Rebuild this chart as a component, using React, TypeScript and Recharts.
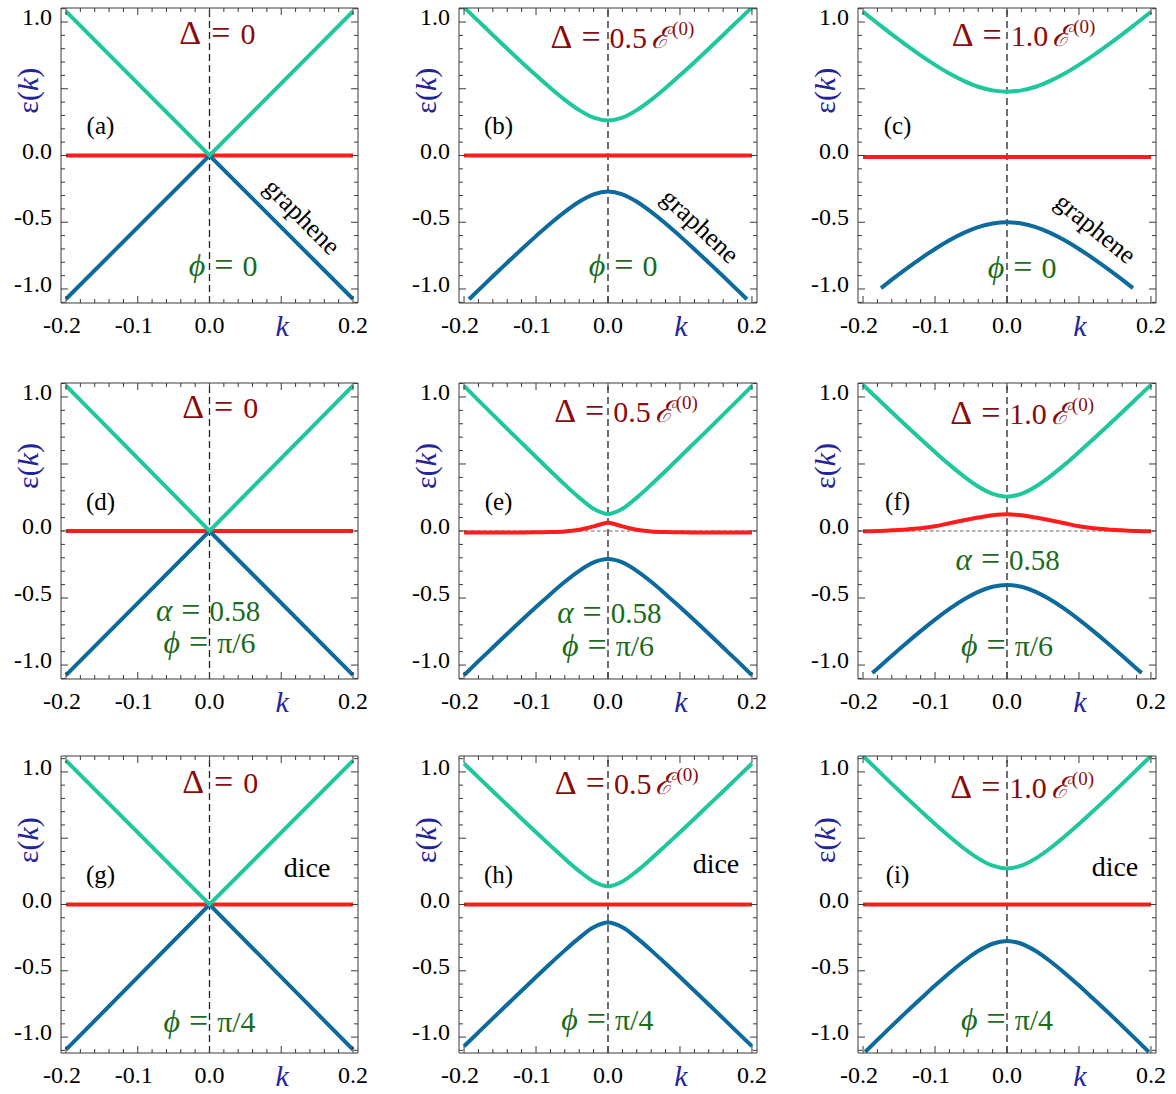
import React from 'react';
import { LineChart, Line, XAxis, YAxis, ReferenceLine, ReferenceDot } from 'recharts';

// ---------- data ----------
const K = [-0.2, -0.18, -0.16, -0.14, -0.12, -0.1, -0.08, -0.06, -0.04, -0.02, 0, 0.02, 0.04, 0.06, 0.08, 0.1, 0.12, 0.14, 0.16, 0.18, 0.2];
const K_LIN = [-0.2, 0, 0.2];
const K_B_LO = [-0.193, -0.18, -0.16, -0.14, -0.12, -0.1, -0.08, -0.06, -0.04, -0.02, 0, 0.02, 0.04, 0.06, 0.08, 0.1, 0.12, 0.14, 0.16, 0.18, 0.193];
const K_C_LO = [-0.175, -0.16, -0.14, -0.12, -0.1, -0.08, -0.06, -0.04, -0.02, 0, 0.02, 0.04, 0.06, 0.08, 0.1, 0.12, 0.14, 0.16, 0.175];
const K_F_LO = [-0.187, -0.16, -0.14, -0.12, -0.1, -0.08, -0.06, -0.04, -0.02, 0, 0.02, 0.04, 0.06, 0.08, 0.1, 0.12, 0.14, 0.16, 0.187];
const K_I_LO = [-0.197, -0.18, -0.16, -0.14, -0.12, -0.1, -0.08, -0.06, -0.04, -0.02, 0, 0.02, 0.04, 0.06, 0.08, 0.1, 0.12, 0.14, 0.16, 0.18, 0.197];
const K_E_FLAT = [-0.2, -0.16, -0.12, -0.1, -0.08, -0.06, -0.05, -0.04, -0.03, -0.02, -0.01, 0, 0.01, 0.02, 0.03, 0.04, 0.05, 0.06, 0.08, 0.1, 0.12, 0.16, 0.2];

const A_UP = [1.08, 0, 1.08];
const A_LO = [-1.075, 0, -1.075];
const A_FLAT = [0, 0, 0];

const B_UP = [1.110, 1.007, 0.903, 0.800, 0.699, 0.601, 0.506, 0.417, 0.340, 0.284, 0.263, 0.284, 0.340, 0.417, 0.506, 0.601, 0.699, 0.800, 0.903, 1.007, 1.110];
const B_LO = [-1.077, -1.009, -0.905, -0.803, -0.702, -0.604, -0.509, -0.422, -0.346, -0.291, -0.270, -0.291, -0.346, -0.422, -0.509, -0.604, -0.702, -0.803, -0.905, -1.009, -1.077];
const B_FLAT = [0, 0, 0];

const C_UP = [1.076, 0.991, 0.907, 0.827, 0.750, 0.679, 0.614, 0.559, 0.515, 0.488, 0.478, 0.488, 0.515, 0.559, 0.614, 0.679, 0.750, 0.827, 0.907, 0.991, 1.076];
const C_LO = [-0.993, -0.930, -0.849, -0.772, -0.700, -0.635, -0.580, -0.537, -0.510, -0.500, -0.510, -0.537, -0.580, -0.635, -0.700, -0.772, -0.849, -0.930, -0.993];
const C_FLAT = [-0.012, -0.012, -0.012];

const D_UP = [1.085, 0, 1.085];
const D_LO = [-1.075, 0, -1.075];
const D_FLAT = [0, 0, 0];

const E_UP = [1.082, 0.975, 0.868, 0.762, 0.657, 0.552, 0.448, 0.346, 0.249, 0.166, 0.127, 0.166, 0.249, 0.346, 0.448, 0.552, 0.657, 0.762, 0.868, 0.975, 1.082];
const E_LO = [-1.075, -0.971, -0.869, -0.767, -0.666, -0.567, -0.471, -0.379, -0.297, -0.234, -0.209, -0.234, -0.297, -0.379, -0.471, -0.567, -0.666, -0.767, -0.869, -0.971, -1.075];
const E_FLAT = [-0.012, -0.012, -0.011, -0.010, -0.008, -0.003, 0.002, 0.010, 0.021, 0.035, 0.050, 0.062, 0.050, 0.035, 0.021, 0.010, 0.002, -0.003, -0.008, -0.010, -0.011, -0.012, -0.012];

const F_UP = [1.090, 0.988, 0.886, 0.785, 0.686, 0.589, 0.495, 0.408, 0.332, 0.277, 0.256, 0.277, 0.332, 0.408, 0.495, 0.589, 0.686, 0.785, 0.886, 0.988, 1.090];
const F_LO = [-1.060, -0.930, -0.837, -0.747, -0.661, -0.581, -0.511, -0.454, -0.416, -0.403, -0.416, -0.454, -0.511, -0.581, -0.661, -0.747, -0.837, -0.930, -1.060];
const F_FLAT = [-0.002, 0.000, 0.005, 0.011, 0.020, 0.035, 0.058, 0.080, 0.100, 0.117, 0.125, 0.117, 0.100, 0.080, 0.058, 0.035, 0.020, 0.011, 0.005, 0.000, -0.002];

const G_UP = [1.085, 0, 1.085];
const G_LO = [-1.095, 0, -1.095];
const G_FLAT = [0, 0, 0];

const H_UP = [1.063, 0.959, 0.854, 0.751, 0.647, 0.545, 0.444, 0.345, 0.252, 0.174, 0.138, 0.174, 0.252, 0.345, 0.444, 0.545, 0.647, 0.751, 0.854, 0.959, 1.063];
const H_LO = [-1.069, -0.964, -0.859, -0.754, -0.650, -0.547, -0.445, -0.346, -0.252, -0.172, -0.136, -0.172, -0.252, -0.346, -0.445, -0.547, -0.650, -0.754, -0.859, -0.964, -1.069];
const H_FLAT = [0, 0, 0];

const I_UP = [1.120, 1.015, 0.910, 0.807, 0.706, 0.607, 0.513, 0.424, 0.348, 0.293, 0.272, 0.293, 0.348, 0.424, 0.513, 0.607, 0.706, 0.807, 0.910, 1.015, 1.120];
const I_LO = [-1.112, -1.021, -0.916, -0.812, -0.711, -0.611, -0.516, -0.428, -0.351, -0.296, -0.275, -0.296, -0.351, -0.428, -0.516, -0.611, -0.711, -0.812, -0.916, -1.021, -1.112];
const I_FLAT = [0, 0, 0];

const X_TICKS = [-0.2, -0.18, -0.16, -0.14, -0.12, -0.1, -0.08, -0.06, -0.04, -0.02, 0, 0.02, 0.04, 0.06, 0.08, 0.1, 0.12, 0.14, 0.16, 0.18, 0.2];
const Y_TICKS = [-1.1, -1.0, -0.9, -0.8, -0.7, -0.6, -0.5, -0.4, -0.3, -0.2, -0.1, 0, 0.1, 0.2, 0.3, 0.4, 0.5, 0.6, 0.7, 0.8, 0.9, 1.0, 1.1];

const DELTA_TEXT = ['0', '0.5', '1.0'];
const PHI_TEXT = ['0', 'π/6', 'π/4'];
const ALPHA_TEXT = '0.58';
const PANEL_IDS = ['a', 'b', 'c', 'd', 'e', 'f', 'g', 'h', 'i'];

// ---------- style / layout ----------
const FONT = '"Liberation Serif", "Times New Roman", "DejaVu Serif", serif';
const COL_UP = '#1fc79c';
const COL_LO = '#0c6a9c';
const COL_FLAT = '#ff1c1c';
const COL_DELTA = '#8a0b0b';
const COL_PHI = '#1b6b1b';
const COL_AXLBL = '#23239c';
const COL_FRAME = '#3a3a3a';
const MAJOR_LEN = 7;
const MINOR_LEN = 4;
const TICK_FS = 24;

const COL_LEFT = [61, 459, 858];
const COL_W = [297, 298, 298];
const ROW_TOP = [8, 383, 756];
const ROW_H = [295, 296, 297];
const ROW_YDOM: [number, number][] = [[-1.105, 1.105], [-1.104, 1.104], [-1.12, 1.12]];
const X_DOM: [number, number] = [-0.207, 0.207];
// outer space around the plot box (includes a 1px axis band on each side)
const OUT = { top: 8, left: 61, right: 16, bottom: 41 };
const MARGIN = { top: OUT.top - 1, left: OUT.left - 1, right: OUT.right - 1, bottom: OUT.bottom - 1 };

const zip = (k: number[], e: number[]) => k.map((kk, i) => ({ k: kk, e: e[i] }));

const isMajorX = (v: number) => Math.abs(v * 10 - Math.round(v * 10)) < 1e-6;
const isMajorY = (v: number) => Math.abs(v * 2 - Math.round(v * 2)) < 1e-6;
const fmt = (v: number) => (Math.abs(v) < 1e-9 ? '0.0' : v.toFixed(1));

function BottomTick(props: any) {
  const { x, y, payload } = props;
  const v = payload.value;
  const major = isMajorX(v);
  return (
    <g>
      <line x1={x} y1={y} x2={x} y2={y - (major ? MAJOR_LEN : MINOR_LEN)} stroke={COL_FRAME} strokeWidth={1} />
      {major && Math.abs(v - 0.1) < 1e-6 ? (
        <text x={x + 1} y={y + 33} textAnchor="middle" fontFamily={FONT} fontSize={30} fontStyle="italic" fill={COL_AXLBL}>k</text>
      ) : major ? (
        <text x={v < 0 ? x - 4 : x} y={y + 30} textAnchor="middle" fontFamily={FONT} fontSize={TICK_FS} fill="#000">{fmt(v)}</text>
      ) : null}
    </g>
  );
}

function TopTick(props: any) {
  const { x, y, payload } = props;
  const major = isMajorX(payload.value);
  return <line x1={x} y1={y} x2={x} y2={y + (major ? MAJOR_LEN : MINOR_LEN)} stroke={COL_FRAME} strokeWidth={1} />;
}

function LeftTick(props: any) {
  const { x, y, payload } = props;
  const v = payload.value;
  const major = isMajorY(v);
  return (
    <g>
      <line x1={x} y1={y} x2={x + (major ? MAJOR_LEN : MINOR_LEN)} y2={y} stroke={COL_FRAME} strokeWidth={1} />
      {major && Math.abs(v - 0.5) < 1e-6 ? (
        <text transform={`translate(${x - 33},${y + 2}) rotate(-90)`} x={0} y={0} dy="0.33em" textAnchor="middle" fontFamily={FONT} fontSize={30} fill={COL_AXLBL}>
          ε(<tspan fontStyle="italic">k</tspan>)
        </text>
      ) : major ? (
        <text x={x - 9} y={y + 3} textAnchor="end" fontFamily={FONT} fontSize={TICK_FS} fill="#000">{fmt(v)}</text>
      ) : null}
    </g>
  );
}

function RightTick(props: any) {
  const { x, y, payload } = props;
  const major = isMajorY(payload.value);
  return <line x1={x} y1={y} x2={x - (major ? MAJOR_LEN : MINOR_LEN)} y2={y} stroke={COL_FRAME} strokeWidth={1} />;
}

type Seg = { t: string; dx?: number; dy?: number; size?: number; italic?: boolean };

function AnnoText(props: any) {
  const { viewBox, segs, size, color, shift, rotate } = props;
  const cx = viewBox.x + (viewBox.width || 0) / 2;
  const cy = viewBox.y + (viewBox.height || 0) / 2;
  return (
    <text
      x={cx}
      y={cy + shift * size}
      textAnchor="middle"
      fontFamily={FONT}
      fontSize={size}
      fill={color}
      transform={rotate ? `rotate(${rotate} ${cx} ${cy})` : undefined}
    >
      {(segs as Seg[]).map((s, i) => (
        <tspan key={i} dx={s.dx} dy={s.dy} fontSize={s.size} fontStyle={s.italic ? 'italic' : undefined}>{s.t}</tspan>
      ))}
    </text>
  );
}

const GAP = 9;
const SYM = 34;
const deltaSegs = (d: string): Seg[] =>
  d === '0'
    ? [{ t: 'Δ', size: SYM }, { t: '=', dx: GAP + 1, size: SYM }, { t: '0', dx: GAP + 1 }]
    : [{ t: 'Δ', size: SYM }, { t: '=', dx: GAP, size: SYM }, { t: d, dx: GAP }, { t: 'ℰ', dx: 4, italic: true }, { t: '(0)', dx: 3, dy: -13, size: 19 }];
const phiSegs = (p: string): Seg[] => [{ t: 'ϕ', italic: true, size: 32 }, { t: '=', dx: GAP, size: SYM }, { t: p, dx: GAP }];
const alphaSegs = (a: string): Seg[] => [{ t: 'α', italic: true, size: 31 }, { t: '=', dx: GAP, size: SYM }, { t: a, dx: GAP }];

type Panel = {
  up: { k: number; e: number }[];
  lo: { k: number; e: number }[];
  flat: { k: number; e: number }[];
  curve: 'linear' | 'monotone';
  delta: [number, number];
  phi: [number, number];
  alpha?: [number, number];
  lattice?: { text: string; pos: [number, number]; rot: number };
};

const PANELS: Panel[] = [
  { up: zip(K_LIN, A_UP), lo: zip(K_LIN, A_LO), flat: zip(K_LIN, A_FLAT), curve: 'linear', delta: [0.011, 0.91], phi: [0.019, -0.827], lattice: { text: 'graphene', pos: [0.127, -0.47], rot: 45 } },
  { up: zip(K, B_UP), lo: zip(K_B_LO, B_LO), flat: zip(K_LIN, B_FLAT), curve: 'monotone', delta: [0.02, 0.876], phi: [0.021, -0.828], lattice: { text: 'graphene', pos: [0.126, -0.541], rot: 43 } },
  { up: zip(K, C_UP), lo: zip(K_C_LO, C_LO), flat: zip(K_LIN, C_FLAT), curve: 'monotone', delta: [0.023, 0.895], phi: [0.021, -0.84], lattice: { text: 'graphene', pos: [0.121, -0.56], rot: 39 } },
  { up: zip(K_LIN, D_UP), lo: zip(K_LIN, D_LO), flat: zip(K_LIN, D_FLAT), curve: 'linear', delta: [0.015, 0.916], phi: [0.0, -0.838], alpha: [-0.002, -0.602] },
  { up: zip(K, E_UP), lo: zip(K, E_LO), flat: zip(K_E_FLAT, E_FLAT), curve: 'monotone', delta: [0.025, 0.89], phi: [0.0, -0.857], alpha: [0.002, -0.614] },
  { up: zip(K, F_UP), lo: zip(K_F_LO, F_LO), flat: zip(K, F_FLAT), curve: 'monotone', delta: [0.021, 0.872], phi: [0.0, -0.857], alpha: [0.001, -0.222] },
  { up: zip(K_LIN, G_UP), lo: zip(K_LIN, G_LO), flat: zip(K_LIN, G_FLAT), curve: 'linear', delta: [0.015, 0.919], phi: [0.0, -0.886], lattice: { text: 'dice', pos: [0.136, 0.277], rot: 0 } },
  { up: zip(K, H_UP), lo: zip(K, H_LO), flat: zip(K_LIN, H_FLAT), curve: 'monotone', delta: [0.026, 0.906], phi: [-0.001, -0.873], lattice: { text: 'dice', pos: [0.15, 0.309], rot: 0 } },
  { up: zip(K, I_UP), lo: zip(K_I_LO, I_LO), flat: zip(K_LIN, I_FLAT), curve: 'monotone', delta: [0.021, 0.881], phi: [0.0, -0.873], lattice: { text: 'dice', pos: [0.15, 0.284], rot: 0 } },
];

function PanelChart({ p, idx }: { p: Panel; idx: number }) {
  const row = Math.floor(idx / 3);
  const col = idx % 3;
  const pw = COL_W[col];
  const ph = ROW_H[row];
  const yDom = ROW_YDOM[row];
  return (
    <div style={{ position: 'absolute', left: COL_LEFT[col] - OUT.left, top: ROW_TOP[row] - OUT.top }}>
      <LineChart width={OUT.left + pw + OUT.right} height={OUT.top + ph + OUT.bottom} margin={MARGIN}>
        <XAxis type="number" dataKey="k" domain={X_DOM} allowDataOverflow ticks={X_TICKS} interval={0} orientation="bottom" height={1} tickSize={0} tickMargin={0} tickLine={false} axisLine={{ stroke: COL_FRAME, strokeWidth: 1 }} tick={<BottomTick />} />
        <XAxis xAxisId="top" type="number" dataKey="k" domain={X_DOM} allowDataOverflow ticks={X_TICKS} interval={0} orientation="top" height={1} tickSize={0} tickMargin={0} tickLine={false} axisLine={{ stroke: COL_FRAME, strokeWidth: 1 }} tick={<TopTick />} />
        <YAxis type="number" domain={yDom} allowDataOverflow ticks={Y_TICKS} interval={0} orientation="left" width={1} tickSize={0} tickMargin={0} tickLine={false} axisLine={{ stroke: COL_FRAME, strokeWidth: 1 }} tick={<LeftTick />} />
        <YAxis yAxisId="right" type="number" domain={yDom} allowDataOverflow ticks={Y_TICKS} interval={0} orientation="right" width={1} tickSize={0} tickMargin={0} tickLine={false} axisLine={{ stroke: COL_FRAME, strokeWidth: 1 }} tick={<RightTick />} />
        <ReferenceLine y={0} stroke="#666" strokeWidth={1} strokeDasharray="3.5 2.5" />
        <ReferenceLine x={0} stroke="#222" strokeWidth={1.3} strokeDasharray="7 4" />
        <Line data={p.flat} dataKey="e" type={p.curve === 'linear' ? 'linear' : 'monotone'} stroke={COL_FLAT} strokeWidth={4} dot={false} activeDot={false} isAnimationActive={false} />
        <Line data={p.lo} dataKey="e" type={p.curve} stroke={COL_LO} strokeWidth={4} dot={false} activeDot={false} isAnimationActive={false} />
        <Line data={p.up} dataKey="e" type={p.curve} stroke={COL_UP} strokeWidth={4} dot={false} activeDot={false} isAnimationActive={false} />
        <ReferenceDot x={-0.152} y={0.21} r={0} fill="none" stroke="none" label={<AnnoText segs={[{ t: `(${PANEL_IDS[idx]})` }]} size={25} color="#000" shift={0.27} />} />
        <ReferenceDot x={p.delta[0]} y={p.delta[1]} r={0} fill="none" stroke="none" label={<AnnoText segs={deltaSegs(DELTA_TEXT[col])} size={30} color={COL_DELTA} shift={0.33} />} />
        <ReferenceDot x={p.phi[0]} y={p.phi[1]} r={0} fill="none" stroke="none" label={<AnnoText segs={phiSegs(PHI_TEXT[row])} size={30} color={COL_PHI} shift={0.33} />} />
        {p.alpha && (
          <ReferenceDot x={p.alpha[0]} y={p.alpha[1]} r={0} fill="none" stroke="none" label={<AnnoText segs={alphaSegs(ALPHA_TEXT)} size={29} color={COL_PHI} shift={0.33} />} />
        )}
        {p.lattice && (
          <ReferenceDot x={p.lattice.pos[0]} y={p.lattice.pos[1]} r={0} fill="none" stroke="none" label={<AnnoText segs={[{ t: p.lattice.text }]} size={p.lattice.text === 'dice' ? 28 : 26} color="#000" shift={p.lattice.text === 'dice' ? 0.34 : 0.24} rotate={p.lattice.rot} />} />
        )}
      </LineChart>
    </div>
  );
}

export default function App() {
  return (
    <div style={{ position: 'absolute', left: 0, top: 0, width: 1176, height: 1094, overflow: 'hidden', background: '#fff', fontFamily: FONT }}>
      {PANELS.map((p, i) => (
        <PanelChart key={i} p={p} idx={i} />
      ))}
    </div>
  );
}
